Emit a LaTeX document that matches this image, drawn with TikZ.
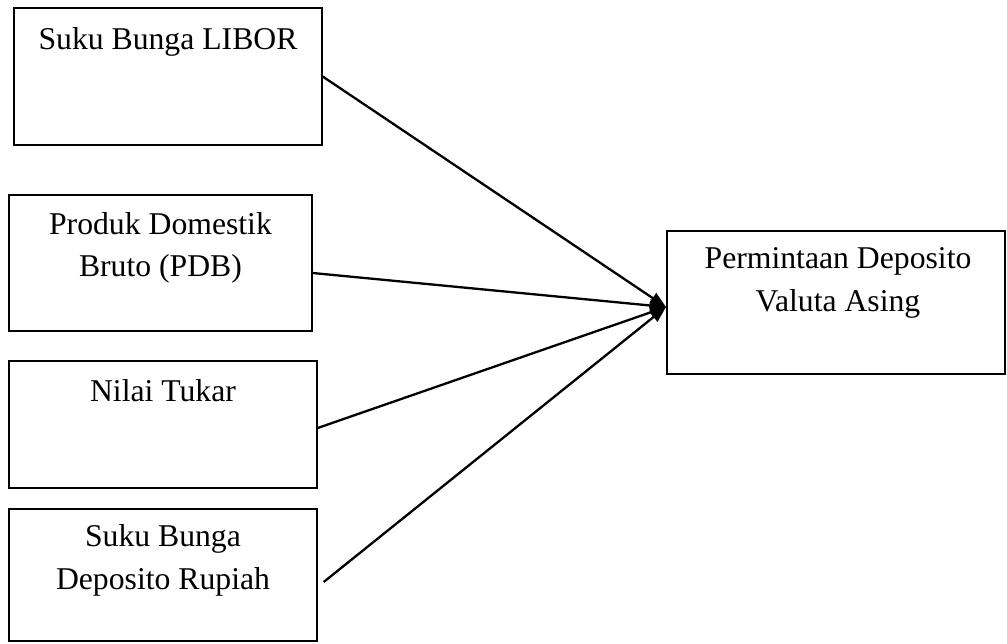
\documentclass[tikz,border=0pt]{standalone}
\usepackage{fontspec}
\setmainfont{Liberation Serif}
\usetikzlibrary{arrows.meta}
\begin{document}
\begin{tikzpicture}[x=1pt,y=-1pt,
  box/.style={draw, line width=1.4pt, inner sep=0pt},
  txt/.style={align=center, inner sep=0pt, anchor=base, font=\fontsize{31.7}{42.4}\selectfont},
  arr/.style={line width=2.3pt, -{Triangle[length=16pt,width=12pt]}}]
\useasboundingbox (0,0) rectangle (1007,643);
\node[box, minimum width=308pt, minimum height=137pt] (b1) at (168,76.5) {};
\node[box, minimum width=303pt, minimum height=136pt] (b2) at (160.5,263) {};
\node[box, minimum width=308pt, minimum height=127pt] (b3) at (163,424.5) {};
\node[box, minimum width=308pt, minimum height=132pt] (b4) at (163,575) {};
\node[box, minimum width=338pt, minimum height=143pt] (b5) at (836,302.5) {};
\node[txt] (t1) at (168,49) {Suku Bunga LIBOR};
\node[txt] (t2) at (160.5,276.5) {Produk Domestik\\Bruto (PDB)};
\node[txt] (t3) at (163,401) {Nilai Tukar};
\node[txt] (t4) at (163,589) {Suku Bunga\\Deposito Rupiah};
\node[txt] (t5) at (838,311) {Permintaan Deposito\\Valuta Asing};
\coordinate (tip) at (666,307);
\draw[arr] (b1.east) -- (tip);
\draw[arr] ([shift={(0,10)}]b2.east) -- (tip);
\draw[arr] ([shift={(0,3.5)}]b3.east) -- (tip);
\draw[arr] ([shift={(6,7)}]b4.east) -- (tip);
\end{tikzpicture}
\end{document}
